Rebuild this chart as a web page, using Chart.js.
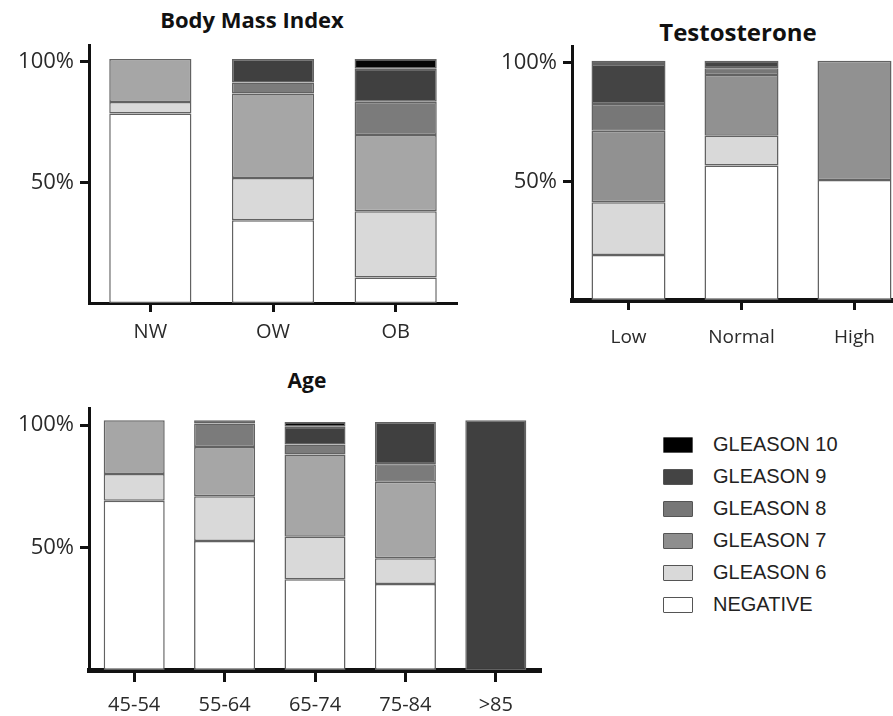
<!DOCTYPE html>
<html>
<head>
<meta charset="utf-8">
<script src="https://cdn.jsdelivr.net/npm/chart.js@4.4.0/dist/chart.umd.min.js"></script>
<style>
  html, body { margin: 0; padding: 0; background: #fff; }
  body { width: 893px; height: 716px; position: relative; overflow: hidden; }
  canvas { position: absolute; }
  .title { position: absolute; font-family: 'Open Sans', sans-serif; font-weight: 700; color: #111; transform: translateX(-50%); white-space: nowrap; }
  .legend { position: absolute; left: 663px; top: 437px; font-family: 'Liberation Sans', Arial, sans-serif; font-size: 20px; color: #222; }
  .legend div { height: 32px; position: relative; }
  .legend span.box { position: absolute; left: 0; top: 0; width: 28px; height: 14px; border: 1.5px solid #555; border-radius: 1px; }
  .legend span.txt { position: absolute; left: 50px; top: -4px; white-space: nowrap; }
</style>
</head>
<body>
<div class="title" style="left:252px; top:4px; font-size:22px;">Body Mass Index</div>
<div class="title" style="left:738px; top:15px; font-size:24px;">Testosterone</div>
<div class="title" style="left:307px; top:366px; font-size:21px;">Age</div>

<canvas id="bmiChart" width="470" height="355" style="left:0; top:0;"></canvas>
<canvas id="testoChart" width="460" height="360" style="left:480px; top:0;"></canvas>
<canvas id="ageChart" width="560" height="356" style="left:0; top:360px;"></canvas>

<div class="legend" id="legend"></div>

<script>
// Series names, bottom of stack first
const seriesNames = ['NEGATIVE', 'GLEASON 6', 'GLEASON 7', 'GLEASON 8', 'GLEASON 9', 'GLEASON 10'];
const seriesColors = ['#ffffff', '#d9d9d9', '#a6a6a6', '#7b7b7b', '#404040', '#050505'];
const testoColors = ['#ffffff', '#d9d9d9', '#919191', '#777777', '#444444', '#111111'];
const legendColors = ['#ffffff', '#d9d9d9', '#8e8e8e', '#777777', '#444444', '#000000'];
const yTicks = [50, 100];

// Body Mass Index (% of patients)
const bmiLabels = ['NW', 'OW', 'OB'];
const bmiNeg = [78.6, 34.3, 10.6];
const bmiG6 = [4.8, 17.5, 27.5];
const bmiG7 = [17.8, 35.1, 31.6];
const bmiG8 = [null, 4.5, 13.8];
const bmiG9 = [null, 9.8, 13.7];
const bmiG10 = [null, null, 4.0];

// Testosterone
const testoLabels = ['Low', 'Normal', 'High'];
const testoNeg = [19.0, 56.7, 50.6];
const testoG6 = [22.2, 12.5, null];
const testoG7 = [30.1, 25.6, 50.2];
const testoG8 = [11.3, 2.8, null];
const testoG9 = [16.8, 3.2, null];
const testoG10 = [1.4, null, null];

// Age
const ageLabels = ['45-54', '55-64', '65-74', '75-84', '>85'];
const ageNeg = [69.1, 52.7, 37.1, 35.1, null];
const ageG6 = [10.9, 18.3, 17.3, 10.5, null];
const ageG7 = [22.0, 20.1, 33.6, 31.3, null];
const ageG8 = [null, 9.6, 4.1, 7.1, null];
const ageG9 = [null, 1.3, 7.2, 17.3, 102.0];
const ageG10 = [null, null, 2.0, null, null];

Chart.defaults.font.family = "'Open Sans', sans-serif";
Chart.defaults.color = '#2a2a2a';

function makeChart(id, labels, series, colors, box) {
  const ctx = document.getElementById(id).getContext('2d');
  return new Chart(ctx, {
    type: 'bar',
    data: {
      labels: labels,
      datasets: series.map((values, i) => ({
        label: seriesNames[i],
        data: values,
        backgroundColor: colors[i],
        borderColor: '#626262',
        borderWidth: 1.5,
        borderSkipped: false,
        barPercentage: box.barPct,
        categoryPercentage: 1.0
      }))
    },
    options: {
      responsive: false,
      animation: false,
      layout: { padding: { top: box.top, right: box.right, left: 0, bottom: 0 } },
      plugins: { legend: { display: false }, tooltip: { enabled: false } },
      scales: {
        x: {
          stacked: true,
          offset: true,
          afterFit: (scale) => { scale.height = box.xHeight; },
          grid: {
            offset: false,
            drawOnChartArea: false,
            drawTicks: true,
            tickLength: box.xTick,
            tickWidth: 3,
            tickColor: '#111'
          },
          border: { display: true, color: '#111', width: box.xBorder },
          ticks: { font: { size: box.xFont }, color: '#2a2a2a', padding: box.xPad, maxRotation: 0 }
        },
        y: {
          stacked: true,
          min: 0,
          max: 107,
          afterFit: (scale) => { scale.width = box.left; },
          afterBuildTicks: (scale) => { scale.ticks = yTicks.map(v => ({ value: v })); },
          grid: {
            drawOnChartArea: false,
            drawTicks: true,
            tickLength: 9,
            tickWidth: 3,
            tickColor: '#111'
          },
          border: { display: true, color: '#111', width: 3 },
          ticks: {
            font: { size: 22 },
            color: '#2a2a2a',
            padding: 6,
            callback: (v) => v + '%'
          }
        }
      }
    }
  });
}

makeChart('bmiChart', bmiLabels,
  [bmiNeg, bmiG6, bmiG7, bmiG8, bmiG9, bmiG10], seriesColors,
  { left: 89, top: 45, right: 13, xHeight: 52, xBorder: 3, xTick: 9, xFont: 20, xPad: 8, barPct: 0.67 });

makeChart('testoChart', testoLabels,
  [testoNeg, testoG6, testoG7, testoG8, testoG9, testoG10], testoColors,
  { left: 92, top: 46, right: 29, xHeight: 60, xBorder: 5, xTick: 10, xFont: 19, xPad: 16, barPct: 0.655 });

makeChart('ageChart', ageLabels,
  [ageNeg, ageG6, ageG7, ageG8, ageG9, ageG10], seriesColors,
  { left: 89, top: 48, right: 19, xHeight: 46, xBorder: 5, xTick: 12, xFont: 20, xPad: 11, barPct: 0.675 });

// Legend, top entry first
const legend = document.getElementById('legend');
for (let i = seriesNames.length - 1; i >= 0; i--) {
  const row = document.createElement('div');
  row.innerHTML = '<span class="box" style="background:' + legendColors[i] + '"></span><span class="txt">' + seriesNames[i] + '</span>';
  legend.appendChild(row);
}
</script>
</body>
</html>
